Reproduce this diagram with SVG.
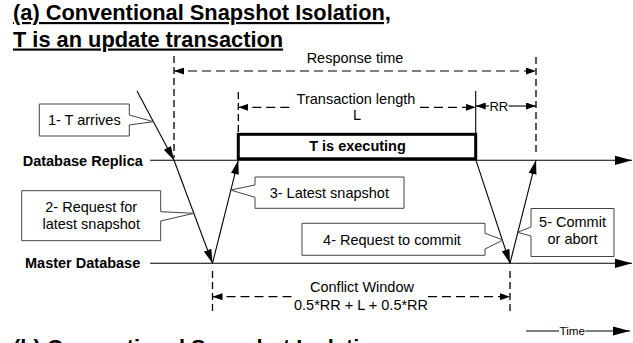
<svg xmlns="http://www.w3.org/2000/svg" width="633" height="343" viewBox="0 0 633 343">
<defs>
<style>
text{font-family:"Liberation Sans",Arial,Helvetica,sans-serif;fill:#000}
.title{font-size:21.8px;font-weight:bold;text-decoration:underline}
.lane{font-size:14.5px;font-weight:bold}
.lbl{font-size:14.5px;text-anchor:middle}
.c{text-anchor:middle}
.ln{stroke:#000;stroke-width:1.1;fill:none}
.dash{stroke:#000;stroke-width:1.2;fill:none;stroke-dasharray:9,5}
.vdash{stroke:#000;stroke-width:1.3;fill:none;stroke-dasharray:7,4}
.callout{fill:#fff;stroke:#444;stroke-width:1}
</style>
<marker id="ahBig" markerUnits="userSpaceOnUse" markerWidth="17" markerHeight="10" viewBox="0 0 17 10" refX="17" refY="5" orient="auto"><path d="M0,0.4 L17,5 L0,9.6 Z" fill="#000"/></marker>
<marker id="ahMsg" markerUnits="userSpaceOnUse" markerWidth="14" markerHeight="8" viewBox="0 0 14 8" refX="14" refY="4" orient="auto"><path d="M0,0 L14,4 L0,8 Z" fill="#000"/></marker>
<marker id="ahDim" markerUnits="userSpaceOnUse" markerWidth="10" markerHeight="7" viewBox="0 0 10 7" refX="10" refY="3.5" orient="auto-start-reverse"><path d="M0,0 L10,3.5 L0,7 Z" fill="#000"/></marker>
</defs>
<rect width="633" height="343" fill="#fff"/>

<g id="title">
<text class="title" x="13" y="20">(a) Conventional Snapshot Isolation,</text>
<text class="title" x="13" y="46.5">T is an update transaction</text>
</g>

<g id="connectors">
<!-- timelines -->
<line class="ln" x1="150" y1="160.3" x2="632" y2="160.3" marker-end="url(#ahBig)"/>
<line class="ln" x1="150" y1="263.3" x2="632" y2="263.3" marker-end="url(#ahBig)"/>
<!-- messages -->
<line class="ln" x1="137" y1="91" x2="174" y2="160.3" marker-end="url(#ahMsg)"/>
<line class="ln" x1="174" y1="160.3" x2="212.5" y2="263.3" marker-end="url(#ahMsg)"/>
<line class="ln" x1="212.5" y1="263.3" x2="238.3" y2="160.3" marker-end="url(#ahMsg)"/>
<line class="ln" x1="476" y1="160.3" x2="510" y2="263.3" marker-end="url(#ahMsg)"/>
<line class="ln" x1="510" y1="263.3" x2="536" y2="160.3" marker-end="url(#ahMsg)"/>
<!-- guide lines -->
<line class="vdash" x1="174" y1="56" x2="174" y2="158"/>
<line class="vdash" x1="238.3" y1="92" x2="238.3" y2="133"/>
<line class="ln" x1="475.7" y1="91" x2="475.7" y2="133"/>
<line class="vdash" x1="536" y1="57" x2="536" y2="153"/>
<line class="vdash" x1="212.5" y1="271" x2="212.5" y2="311"/>
<line class="vdash" x1="510" y1="271" x2="510" y2="312"/>
<!-- dimensions -->
<line class="dash" x1="174" y1="71" x2="536" y2="71" marker-start="url(#ahDim)" marker-end="url(#ahDim)"/>
<line class="dash" x1="238.3" y1="107.3" x2="293" y2="107.3" marker-start="url(#ahDim)"/>
<line class="dash" x1="420" y1="107.3" x2="475.7" y2="107.3" marker-end="url(#ahDim)"/>
<line class="ln" x1="475.7" y1="106" x2="489" y2="106" marker-start="url(#ahDim)"/>
<line class="ln" x1="508.5" y1="106" x2="536" y2="106" marker-end="url(#ahDim)"/>
<line class="dash" x1="212.5" y1="296.7" x2="293" y2="296.7" marker-start="url(#ahDim)"/>
<line class="dash" x1="428" y1="296.7" x2="510" y2="296.7" marker-end="url(#ahDim)"/>
<!-- time axis legend -->
<line class="ln" x1="526" y1="331" x2="559" y2="331" stroke-width="1.4"/>
<line class="ln" x1="585.5" y1="331" x2="630" y2="331" stroke-width="1.4" marker-end="url(#ahBig)"/>
</g>

<g id="replica">
<text class="lane" x="22.7" y="165.6">Database Replica</text>
</g>
<g id="master">
<text class="lane" x="25" y="267.8">Master Database</text>
</g>

<g id="response-time">
<text class="lbl" x="355" y="63">Response time</text>
</g>
<g id="transaction-length">
<text class="lbl" x="356" y="103.5">Transaction length</text>
<text class="lbl" x="357" y="120">L</text>
</g>
<g id="rr">
<text class="lbl" x="498.8" y="110.7" style="font-size:13px">RR</text>
</g>

<g id="executing">
<rect x="238.3" y="134.3" width="237.4" height="24.5" fill="#fff" stroke="#000" stroke-width="3"/>
<text class="lane c" x="357.5" y="151">T is executing</text>
</g>

<g id="callout1">
<path class="callout" d="M39.3,104 H129.3 V115 L153.3,121.7 L129.3,125 V136 H39.3 Z"/>
<text class="lbl" x="84.3" y="125">1- T arrives</text>
</g>
<g id="callout2">
<path class="callout" d="M21.7,190.7 H160.7 V211.7 L193.8,213.3 L160.7,221 V240.7 H21.7 Z"/>
<text class="lbl" x="91.2" y="212">2- Request for</text>
<text class="lbl" x="91.2" y="229">latest snapshot</text>
</g>
<g id="callout3">
<path class="callout" d="M255,177 H404 V208.3 H255 V197.3 L230.6,190 L255,185 Z"/>
<text class="lbl" x="329.3" y="197.5">3- Latest snapshot</text>
</g>
<g id="callout4">
<path class="callout" d="M302,223.3 H485 V233.3 L503,240 L485,249 V255.3 H302 Z"/>
<text class="lbl" x="392" y="244.5">4- Request to commit</text>
</g>
<g id="callout5">
<path class="callout" d="M531,208.5 H614 V256.5 H531 V236 L517.5,232.3 L531,227 Z"/>
<text class="lbl" x="572.5" y="226.5">5- Commit</text>
<text class="lbl" x="572.5" y="244">or abort</text>
</g>

<g id="conflict-window">
<text class="lbl" x="362" y="291.5">Conflict Window</text>
<text class="lbl" x="361" y="310">0.5*RR + L + 0.5*RR</text>
</g>

<g id="time-legend">
<text x="559.5" y="335" style="font-size:11.7px">Time</text>
</g>

<g id="title-b">
<text class="lane" x="13" y="355" style="font-size:21.8px">(b) Conventional Snapshot Isolation,</text>
</g>
</svg>
